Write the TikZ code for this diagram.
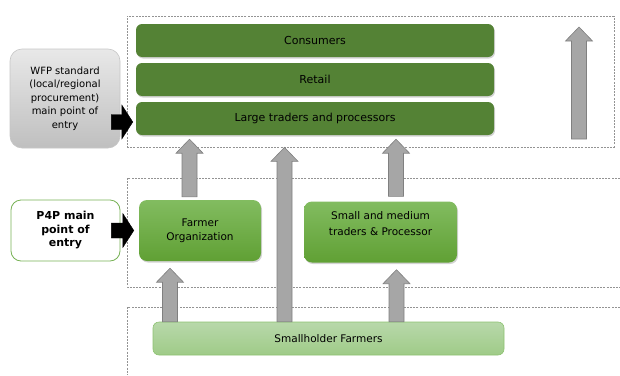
\documentclass[tikz,border=0pt]{standalone}
\usepackage{fontspec}
\setmainfont{DejaVu Sans}
\usepackage{tikz}
\usetikzlibrary{calc}
\usetikzlibrary{shadows}
\definecolor{darkgr}{HTML}{548235}
\definecolor{midgrtop}{HTML}{82BC60}
\definecolor{midgrbot}{HTML}{60A034}
\definecolor{ligrtop}{HTML}{B8D8AA}
\definecolor{ligrbot}{HTML}{9FCB88}
\definecolor{ligrline}{HTML}{8DC271}
\definecolor{p4pline}{HTML}{77B255}
\tikzset{zone/.style = {draw=gray!85, dash pattern=on 2pt off 1.2pt, line width=0.75pt}}
\tikzset{bar/.style = {shape=rectangle, rounded corners=6pt, fill=darkgr, minimum width=358pt, minimum height=33pt, inner sep=0pt, font=\fontsize{11}{13}\selectfont, drop shadow={shadow xshift=1pt, shadow yshift=-1.5pt, opacity=0.35}}}
\tikzset{actor/.style = {shape=rectangle, rounded corners=8pt, top color=midgrtop, bottom color=midgrbot, minimum height=61pt, inner sep=0pt, align=center, drop shadow={shadow xshift=1pt, shadow yshift=-1.5pt, opacity=0.35}}}
\tikzset{block/.style = {fill=gray!70, draw=gray, line width=0.6pt}}
\tikzset{blackblock/.style = {fill=black}}
\newcommand{\grayup}[2]{\draw[block] let \p1=(#1), \p2=(#2) in (\x1-7.5pt,\y1) -- (\x1-7.5pt,\y2-14pt) -- (\x1-13.5pt,\y2-14pt) -- (\x1,\y2) -- (\x1+13.5pt,\y2-14pt) -- (\x1+7.5pt,\y2-14pt) -- (\x1+7.5pt,\y1) -- cycle;}
\newcommand{\blackright}[2]{\draw[blackblock] let \p1=(#1), \p2=(#2) in (\x1,\y2+7.5pt) -- (\x2-11pt,\y2+7.5pt) -- (\x2-11pt,\y2+17pt) -- (\x2,\y2) -- (\x2-11pt,\y2-17pt) -- (\x2-11pt,\y2-7.5pt) -- (\x1,\y2-7.5pt) -- cycle;}

\begin{document}
\begin{tikzpicture}[x=1pt, y=-1pt]
            \useasboundingbox (0,0) rectangle (620,375);

            \node[zone, minimum width=487pt, minimum height=131pt, inner sep=0pt] (top) at (370.5,81.5) {};
            \draw[zone] (620,178) -- (127,178) -- (127,287) -- (620,287);
            \draw[zone] (620,307) -- (127,307) -- (127,375);

            \node[bar] (con) at (315,40.5) {Consumers};
            \node[bar] (ret) at (315,79.5) {Retail};
            \node[bar] (lt) at (315,118.5) {Large traders and processors};

            \node[actor, minimum width=122pt, font=\fontsize{10.5}{14}\selectfont] (fo) at (200,230.5) {Farmer\\Organization};
            \node[actor, minimum width=153pt, font=\fontsize{10.5}{16}\selectfont] (sm) at (380.5,232) {Small and medium\\traders \& Processor\\~};
            \node[shape=rectangle, rounded corners=6pt, top color=ligrtop, bottom color=ligrbot, draw=ligrline, line width=0.6pt, minimum width=351pt, minimum height=33pt, inner sep=0pt, font=\fontsize{10.5}{13}\selectfont] (sh) at (328.5,338.5) {Smallholder Farmers};

            \node[shape=rectangle, rounded corners=12pt, top color=gray!18, bottom color=gray!50, draw=gray!45, line width=0.6pt, minimum width=110pt, minimum height=99pt, inner sep=0pt, align=center, font=\fontsize{10}{13.5}\selectfont] (wfp) at (65,98.5) {WFP standard\\(local/regional\\procurement)\\main point of\\entry};
            \node[shape=rectangle, rounded corners=10pt, draw=p4pline, line width=0.8pt, fill=white, minimum width=109pt, minimum height=61pt, inner sep=0pt, align=center, font=\fontsize{11}{13.5}\selectfont\bfseries] (p4p) at (65.5,230.5) {P4P main\\point of\\entry};

            \blackright{$(wfp.east)+(-9,0)$}{$(lt.west)+(-3,3.5)$}
            \blackright{$(p4p.east)+(-9,0)$}{$(fo.west)+(-5,0)$}

            \grayup{$(fo.north)+(-10.5,-3)$}{$(lt.south)+(0,4)$}
            \grayup{$(sm.north)+(15.5,-5)$}{$(lt.south)+(0,4)$}
            \grayup{$(sh.north)+(-44,0)$}{top.south}
            \grayup{$(sh.north)+(-158.5,0)$}{$(fo.south)+(0,7)$}
            \grayup{$(sh.north)+(68,0)$}{$(sm.south)+(0,7)$}

            \coordinate (rb) at (579,139);
            \coordinate (rt) at (579,27);
            \grayup{rb}{rt}
\end{tikzpicture}
\end{document}
